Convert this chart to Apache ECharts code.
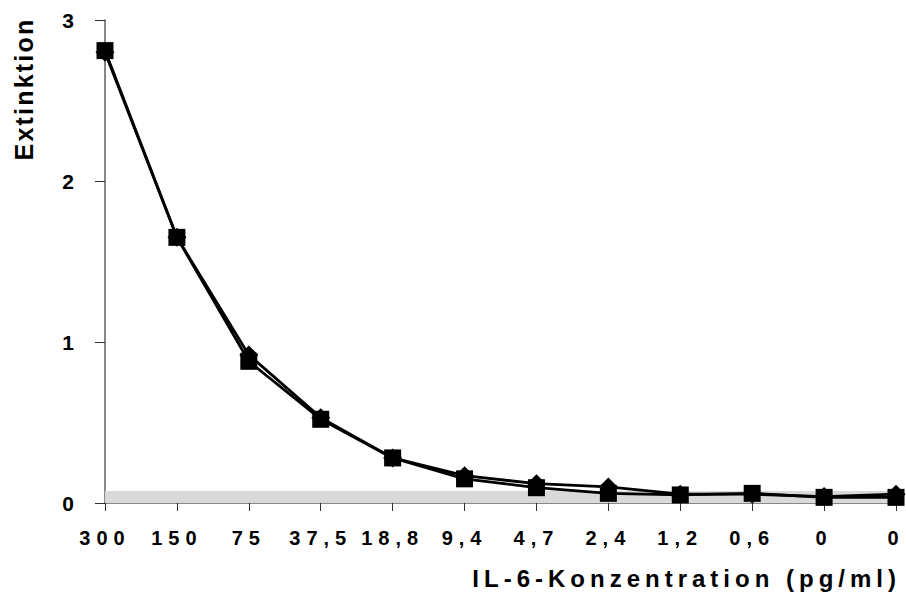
<!DOCTYPE html>
<html>
<head>
<meta charset="utf-8">
<script src="https://cdn.jsdelivr.net/npm/echarts@6/dist/echarts.min.js"></script>
<style>
  html, body { margin: 0; padding: 0; background: #fff; }
  #chart { width: 906px; height: 601px; }
  #chart text[style*="20px"] { letter-spacing: 6px; }
  #chart text[style*="24px"] { letter-spacing: 5px; }
  #chart text[style*="25px"] { letter-spacing: 2.2px; }
</style>
</head>
<body>
<div id="chart"></div>
<script>
const categories = ["300", "150", "75", "37,5", "18,8", "9,4", "4,7", "2,4", "1,2", "0,6", "0", "0"];
const seriesSquare = [2.81, 1.65, 0.88, 0.52, 0.28, 0.15, 0.095, 0.06, 0.05, 0.06, 0.035, 0.035];
const seriesDiamond = [2.80, 1.65, 0.92, 0.53, 0.28, 0.17, 0.12, 0.10, 0.055, 0.055, 0.04, 0.055];
const backgroundBand = [0, 0.075];
const yTicks = [0, 1, 2, 3];
const xAxisTitle = "IL-6-Konzentration (pg/ml)";
const yAxisTitle = "Extinktion";

const FONT = "'Liberation Sans', Arial, sans-serif";
const chart = echarts.init(document.getElementById('chart'), null, { renderer: 'svg' });

chart.setOption({
  animation: false,
  backgroundColor: '#ffffff',
  grid: { left: 105, right: 10, top: 20, bottom: 98 },
  xAxis: {
    type: 'category',
    data: categories,
    boundaryGap: false,
    axisLine: { lineStyle: { color: '#606060', width: 1.5 } },
    axisTick: { show: true, length: 8, lineStyle: { color: '#303030', width: 1 } },
    axisLabel: {
      margin: 25, color: '#000', fontFamily: FONT, fontWeight: 'bold', fontSize: 20,
      interval: 0
    },
    splitLine: { show: false }
  },
  yAxis: {
    type: 'value',
    min: yTicks[0],
    max: yTicks[yTicks.length - 1],
    interval: 1,
    axisLine: { show: true, lineStyle: { color: '#606060', width: 1.5 } },
    axisTick: { show: true, length: 10, lineStyle: { color: '#303030', width: 1 } },
    axisLabel: {
      margin: 31, color: '#000', fontFamily: FONT, fontWeight: 'bold', fontSize: 21,
      padding: [0, 0, 4, 0]
    },
    splitLine: { show: false }
  },
  graphic: [
    {
      type: 'text',
      x: 901, y: 578,
      style: {
        text: xAxisTitle,
        font: "bold 24px " + FONT,
        fill: '#000',
        textAlign: 'right',
        textVerticalAlign: 'middle'
      }
    },
    {
      type: 'text',
      x: 24, y: 89,
      rotation: Math.PI / 2,
      style: {
        text: yAxisTitle,
        font: "bold 25px " + FONT,
        fill: '#000',
        textAlign: 'center',
        textVerticalAlign: 'middle'
      }
    }
  ],
  series: [
    {
      type: 'line',
      data: seriesDiamond,
      symbol: 'diamond',
      symbolSize: 19,
      showAllSymbol: true,
      itemStyle: { color: '#000' },
      lineStyle: { color: '#000', width: 2.8 },
      z: 3,
      markArea: {
        silent: true,
        itemStyle: { color: '#d9d9d9' },
        data: [[{ yAxis: backgroundBand[0] }, { yAxis: backgroundBand[1] }]]
      }
    },
    {
      type: 'line',
      data: seriesSquare,
      symbol: 'rect',
      symbolSize: 17,
      showAllSymbol: true,
      itemStyle: { color: '#000' },
      lineStyle: { color: '#000', width: 2.8 },
      z: 4
    }
  ]
});
</script>
</body>
</html>
